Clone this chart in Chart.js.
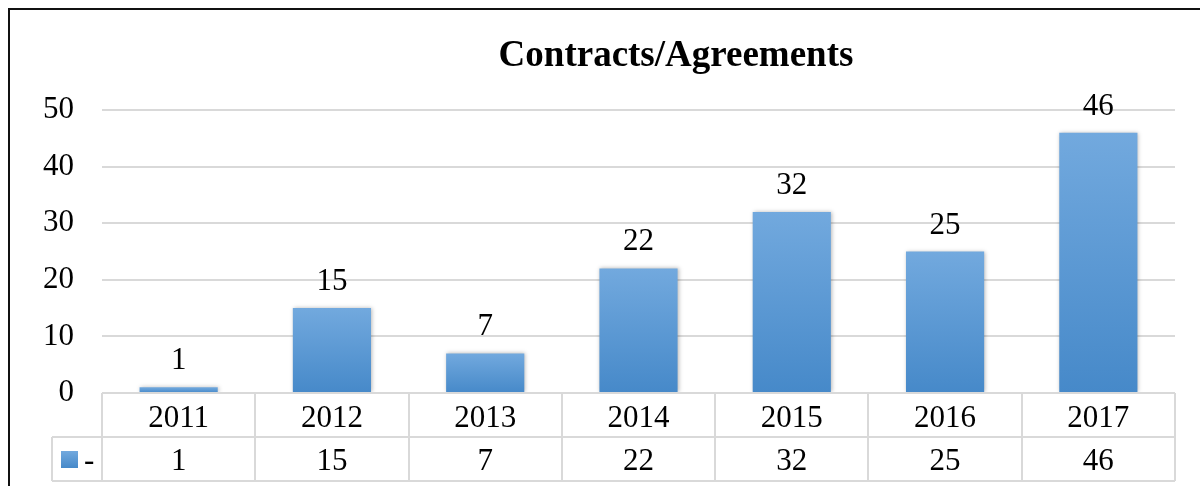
<!DOCTYPE html>
<html>
<head>
<meta charset="utf-8">
<title>Contracts/Agreements</title>
<script src="https://cdn.jsdelivr.net/npm/chart.js@4.4.1/dist/chart.umd.min.js"></script>
<style>
  html, body { margin: 0; padding: 0; background: #ffffff; }
  #wrap { width: 1200px; height: 486px; position: relative; }
</style>
</head>
<body>
<div id="wrap"><canvas id="contractsChart" width="1200" height="486"></canvas></div>
<script>
// ─── Data ───────────────────────────────────────────────────────────
const chartTitle = "Contracts/Agreements";
const years = ["2011", "2012", "2013", "2014", "2015", "2016", "2017"];
const contracts = [1, 15, 7, 22, 32, 25, 46];
const seriesName = "-";
const yTicks = [0, 10, 20, 30, 40, 50];

// ─── Look ───────────────────────────────────────────────────────────
const SERIF = "'Liberation Serif', 'Times New Roman', serif";
const GRID = "#d9d9d9";
const BAR_TOP = "#72a9de";
const BAR_BOTTOM = "#4689c9";

function barGradient(ctx, top, bottom) {
  const g = ctx.createLinearGradient(0, top, 0, bottom);
  g.addColorStop(0, BAR_TOP);
  g.addColorStop(1, BAR_BOTTOM);
  return g;
}

// ─── Plugins ────────────────────────────────────────────────────────
// soft shadow round the bars
const barShadow = {
  id: "barShadow",
  beforeDatasetsDraw(chart) {
    const ctx = chart.ctx;
    ctx.save();
    ctx.shadowColor = "rgba(0,0,0,0.28)";
    ctx.shadowBlur = 4;
    ctx.shadowOffsetX = 1;
    ctx.shadowOffsetY = 0;
  },
  afterDatasetsDraw(chart) {
    chart.ctx.restore();
  },
};

// value above every bar
const valueLabels = {
  id: "valueLabels",
  afterDatasetsDraw(chart) {
    const ctx = chart.ctx;
    const meta = chart.getDatasetMeta(0);
    ctx.save();
    ctx.font = `31px ${SERIF}`;
    ctx.fillStyle = "#000";
    ctx.textAlign = "center";
    ctx.textBaseline = "alphabetic";
    meta.data.forEach((bar, i) => {
      ctx.fillText(String(contracts[i]), bar.x, bar.y - 18);
    });
    ctx.restore();
  },
};

// title, outer frame and the data table under the plot
const tableAndFrame = {
  id: "tableAndFrame",
  afterDraw(chart) {
    const ctx = chart.ctx;
    const x = chart.scales.x;
    const area = chart.chartArea;
    const n = years.length;
    const colW = (area.right - area.left) / n;
    const row0 = area.bottom;
    const row1 = row0 + 44;
    const row2 = row1 + 44;
    const keyLeft = 52;

    ctx.save();

    // title
    ctx.font = `bold 37px ${SERIF}`;
    ctx.fillStyle = "#000";
    ctx.textAlign = "center";
    ctx.textBaseline = "alphabetic";
    ctx.fillText(chartTitle, 676, 66);

    // table lines
    ctx.strokeStyle = GRID;
    ctx.lineWidth = 2;
    ctx.beginPath();
    ctx.moveTo(area.left, row0); ctx.lineTo(area.right, row0);
    ctx.moveTo(keyLeft, row1); ctx.lineTo(area.right, row1);
    ctx.moveTo(keyLeft, row2); ctx.lineTo(area.right, row2);
    ctx.moveTo(keyLeft, row1); ctx.lineTo(keyLeft, row2);
    for (let i = 0; i <= n; i++) {
      const cx = Math.round(area.left + i * colW);
      ctx.moveTo(cx, row0); ctx.lineTo(cx, row2);
    }
    ctx.stroke();

    // table text
    ctx.font = `31px ${SERIF}`;
    ctx.fillStyle = "#000";
    ctx.textAlign = "center";
    years.forEach((yr, i) => {
      const cx = x.getPixelForValue(i);
      ctx.fillText(yr, cx, row0 + 34);
      ctx.fillText(String(contracts[i]), cx, row1 + 33);
    });

    // legend key in the first cell
    ctx.fillStyle = barGradient(ctx, row1 + 14, row1 + 31);
    ctx.fillRect(61, row1 + 14, 17, 17);
    ctx.fillStyle = "#000";
    ctx.textAlign = "left";
    ctx.fillText(seriesName, 84, row1 + 33);

    // outer frame (left and top edges)
    ctx.strokeStyle = "#111";
    ctx.lineWidth = 2;
    ctx.beginPath();
    ctx.moveTo(9, 486); ctx.lineTo(9, 9); ctx.lineTo(1200, 9);
    ctx.stroke();

    ctx.restore();
  },
};

// ─── Chart ──────────────────────────────────────────────────────────
const canvas = document.getElementById("contractsChart");

new Chart(canvas.getContext("2d"), {
  type: "bar",
  data: {
    labels: years,
    datasets: [
      {
        label: seriesName,
        data: contracts,
        backgroundColor: (context) => {
          const chart = context.chart;
          if (!chart.chartArea || context.type !== "data") return BAR_BOTTOM;
          const top = chart.scales.y.getPixelForValue(context.raw);
          return barGradient(chart.ctx, top, chart.chartArea.bottom);
        },
        borderWidth: 0,
        categoryPercentage: 1,
        barPercentage: 0.51,
      },
    ],
  },
  options: {
    responsive: false,
    animation: false,
    devicePixelRatio: 1,
    layout: { padding: { top: 110, bottom: 93, right: 25, left: 0 } },
    plugins: {
      legend: { display: false },
      title: { display: false },
      tooltip: { enabled: false },
    },
    scales: {
      x: { display: false },
      y: {
        min: 0,
        max: 50,
        afterBuildTicks: (scale) => {
          scale.ticks = yTicks.map((v) => ({ value: v }));
        },
        afterFit: (scale) => {
          scale.width = 102;
        },
        border: { display: false },
        grid: { color: GRID, lineWidth: 2, drawTicks: false },
        ticks: {
          padding: 28,
          color: "#000",
          font: { family: SERIF, size: 31 },
        },
      },
    },
  },
  plugins: [barShadow, valueLabels, tableAndFrame],
});
</script>
</body>
</html>
